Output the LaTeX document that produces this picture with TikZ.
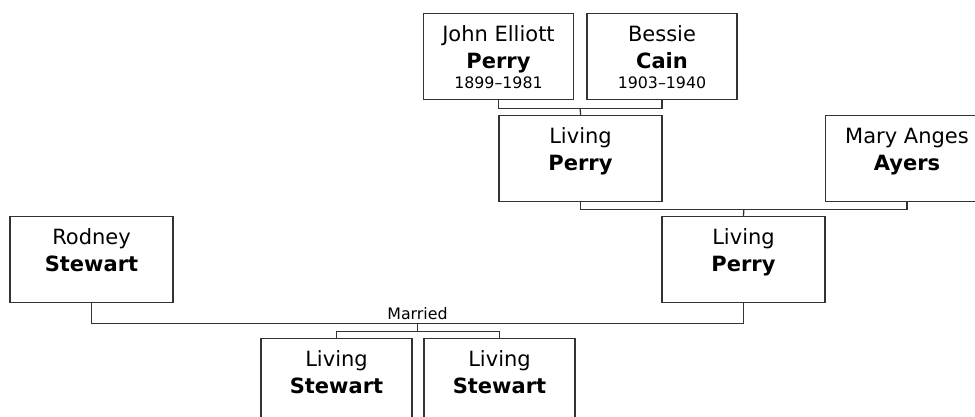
\documentclass[tikz,border=0pt]{standalone}
\usepackage{fontspec}
\setmainfont{DejaVu Sans}
\usetikzlibrary{calc}
\definecolor{edge}{HTML}{333333}

% one family card: width, given names, surname, dates
\newcommand{\person}[4]{\parbox[c][86pt][t]{#1}{\centering
  \rule{0pt}{28pt}#2\par
  {\bfseries #3\par}
  {\fontsize{15.8}{20}\selectfont #4\par}}}

\begin{document}
\begin{tikzpicture}[
  x=1pt, y=-1pt,
  font=\fontsize{21}{26.5}\selectfont,
  card/.style={draw=edge, line width=1.3pt, inner sep=0pt, anchor=north, fill=white},
  link/.style={draw=edge, line width=1.3pt},
  tag/.style={font=\fontsize{15.8}{18}\selectfont, anchor=base, inner sep=0pt}
]
\clip (0,0) rectangle (975,416);

% grandparents
\node[card] (jep) at (498.5,13) {\person{150pt}{John Elliott}{Perry}{1899--1981}};
\node[card] (bc) at (662,13) {\person{150pt}{Bessie}{Cain}{1903--1940}};

% parents of the groom
\node[card] (lp1) at (580.5,115) {\person{163pt}{Living}{Perry}{}};
\node[card] (maa) at (907,115) {\person{163pt}{Mary Anges}{Ayers}{}};

% couple
\node[card] (rs) at (91.5,216) {\person{163pt}{Rodney}{Stewart}{}};
\node[card] (lp2) at (743.5,216) {\person{163pt}{Living}{Perry}{}};

% children
\node[card] (ls1) at (336.5,338) {\person{151pt}{Living}{Stewart}{}};
\node[card] (ls2) at (499.5,338) {\person{151pt}{Living}{Stewart}{}};

\coordinate (f1) at ($(jep.south)!0.5!(bc.south)+(0,8)$);
\coordinate (f2) at ($(lp1.south)!0.5!(maa.south)+(0,7)$);
\coordinate (f3) at ($(rs.south)!0.5!(lp2.south)+(0,20)$);
\coordinate (f4) at ($(f3)+(0,8)$);

\draw[link] (jep.south) |- (f1) -| (bc.south);
\draw[link] (f1) -- (lp1.north);
\draw[link] (lp1.south) |- (f2) -| (maa.south);
\draw[link] (f2) -- (lp2.north);
\draw[link] (rs.south) |- (f3) -| (lp2.south);
\draw[link] (f3) -- (f4);
\draw[link] (ls1.north) |- (f4) -| (ls2.north);

\node[tag] (mar) at ($(f3)+(0,-4)$) {Married};
\end{tikzpicture}
\end{document}
